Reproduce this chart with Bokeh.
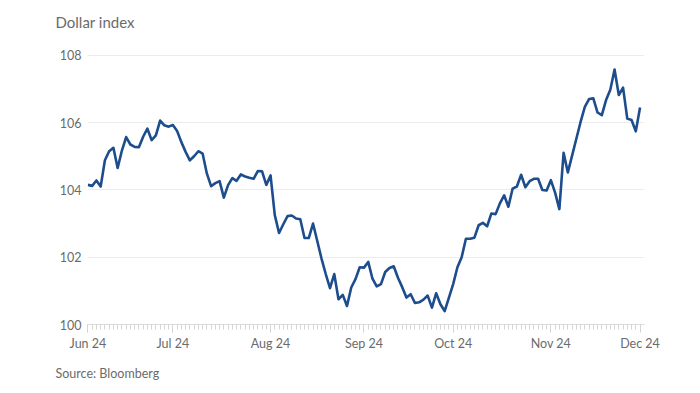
import pandas as pd
from bokeh.plotting import figure
from bokeh.models import Range1d, FixedTicker, Title, ColumnDataSource
from bokeh.embed import file_html
from bokeh.resources import INLINE

# Business days from 3 Jun 2024 to 2 Dec 2024
dates = pd.bdate_range("2024-06-03", "2024-12-02")

jun = [104.15, 104.12, 104.28, 104.10, 104.88, 105.15, 105.25, 104.65, 105.17, 105.57,
       105.35, 105.28, 105.27, 105.58, 105.82, 105.48, 105.62, 106.06, 105.92, 105.88]
jul = [105.93, 105.75, 105.42, 105.13, 104.88, 105.00, 105.15, 105.08, 104.49, 104.11,
       104.20, 104.26, 103.77, 104.14, 104.35, 104.27, 104.46, 104.40, 104.36, 104.33,
       104.56, 104.55, 104.15]
aug = [104.43, 103.25, 102.72, 102.98, 103.22, 103.24, 103.15, 103.13, 102.57, 102.57,
       103.00, 102.48, 101.96, 101.50, 101.08, 101.50, 100.75, 100.88, 100.55, 101.10,
       101.35, 101.70]
sep = [101.69, 101.86, 101.36, 101.13, 101.20, 101.56, 101.68, 101.73, 101.39, 101.11,
       100.80, 100.90, 100.64, 100.66, 100.74, 100.86, 100.50, 100.93, 100.60, 100.40,
       100.80]
oct_ = [101.20, 101.70, 102.00, 102.55, 102.55, 102.58, 102.95, 103.02, 102.92, 103.30,
        103.28, 103.60, 103.84, 103.50, 104.04, 104.10, 104.45, 104.08, 104.26, 104.33,
        104.33, 104.00, 103.98]
nov = [104.29, 103.92, 103.43, 105.10, 104.52, 105.02, 105.52, 106.02, 106.47, 106.70,
       106.72, 106.30, 106.22, 106.67, 106.98, 107.58, 106.82, 107.04, 106.12, 106.08,
       105.74]
dec = [106.45]

values = jun + jul + aug + sep + oct_ + nov + dec

month_labels = ["Jun 24", "Jul 24", "Aug 24", "Sep 24", "Oct 24", "Nov 24", "Dec 24"]
y_ticks = [100, 102, 104, 106, 108]

idx = list(range(len(values)))
# month starts in business-day index
month_starts = []
prev = None
for i, d in enumerate(dates[:len(values)]):
    if d.month != prev:
        month_starts.append(i)
        prev = d.month

src = ColumnDataSource(dict(x=idx, y=values))

TEXT = "#6b6b6b"
FONT = "Lato"

p = figure(width=692, height=391, output_backend="svg", toolbar_location=None,
           x_range=Range1d(-0.1, len(values) + 0.05), y_range=Range1d(100, 108.5),
           min_border_left=87, min_border_right=48, min_border_top=38, min_border_bottom=67)
p.outline_line_color = None
p.background_fill_color = "white"
p.border_fill_color = "white"

p.line("x", "y", source=src, line_color="#1d4d8c", line_width=2.6, line_join="round")

# y axis
p.yaxis.ticker = FixedTicker(ticks=y_ticks)
p.yaxis.axis_line_color = None
p.yaxis.major_tick_line_color = None
p.yaxis.minor_tick_line_color = None
p.yaxis.major_tick_out = 0
p.yaxis.minor_tick_out = 0
p.yaxis.major_label_text_color = TEXT
p.yaxis.major_label_text_font = FONT
p.yaxis.major_label_text_font_size = "12.5px"
p.yaxis.major_label_standoff = 6
p.ygrid.grid_line_color = "#ececec"
p.ygrid.grid_line_width = 1
p.xgrid.grid_line_color = None

# x axis
p.xaxis.ticker = FixedTicker(ticks=month_starts, minor_ticks=idx)
p.xaxis.major_label_overrides = {m: lab for m, lab in zip(month_starts, month_labels)}
p.xaxis.axis_line_color = "#dcdcdc"
p.xaxis.major_tick_line_color = "#cfcfcf"
p.xaxis.minor_tick_line_color = "#d6d6d6"
p.xaxis.major_tick_out = 8
p.xaxis.major_tick_in = 0
p.xaxis.minor_tick_out = 5
p.xaxis.minor_tick_in = 0
p.xaxis.major_label_text_color = TEXT
p.xaxis.major_label_text_font = FONT
p.xaxis.major_label_text_font_size = "12.5px"
p.xaxis.major_label_standoff = 3

title = Title(text="Dollar index", align="left", offset=-32, text_font=FONT,
              text_font_size="15px", text_font_style="normal", text_color=TEXT,
              vertical_align="bottom", standoff=16)
p.add_layout(title, "above")

source = Title(text="Source: Bloomberg", align="left", offset=-32, text_font=FONT,
               text_font_size="12.5px", text_font_style="normal", text_color=TEXT,
               standoff=21)
p.add_layout(source, "below")

open("out.html", "w").write(file_html(p, INLINE))
